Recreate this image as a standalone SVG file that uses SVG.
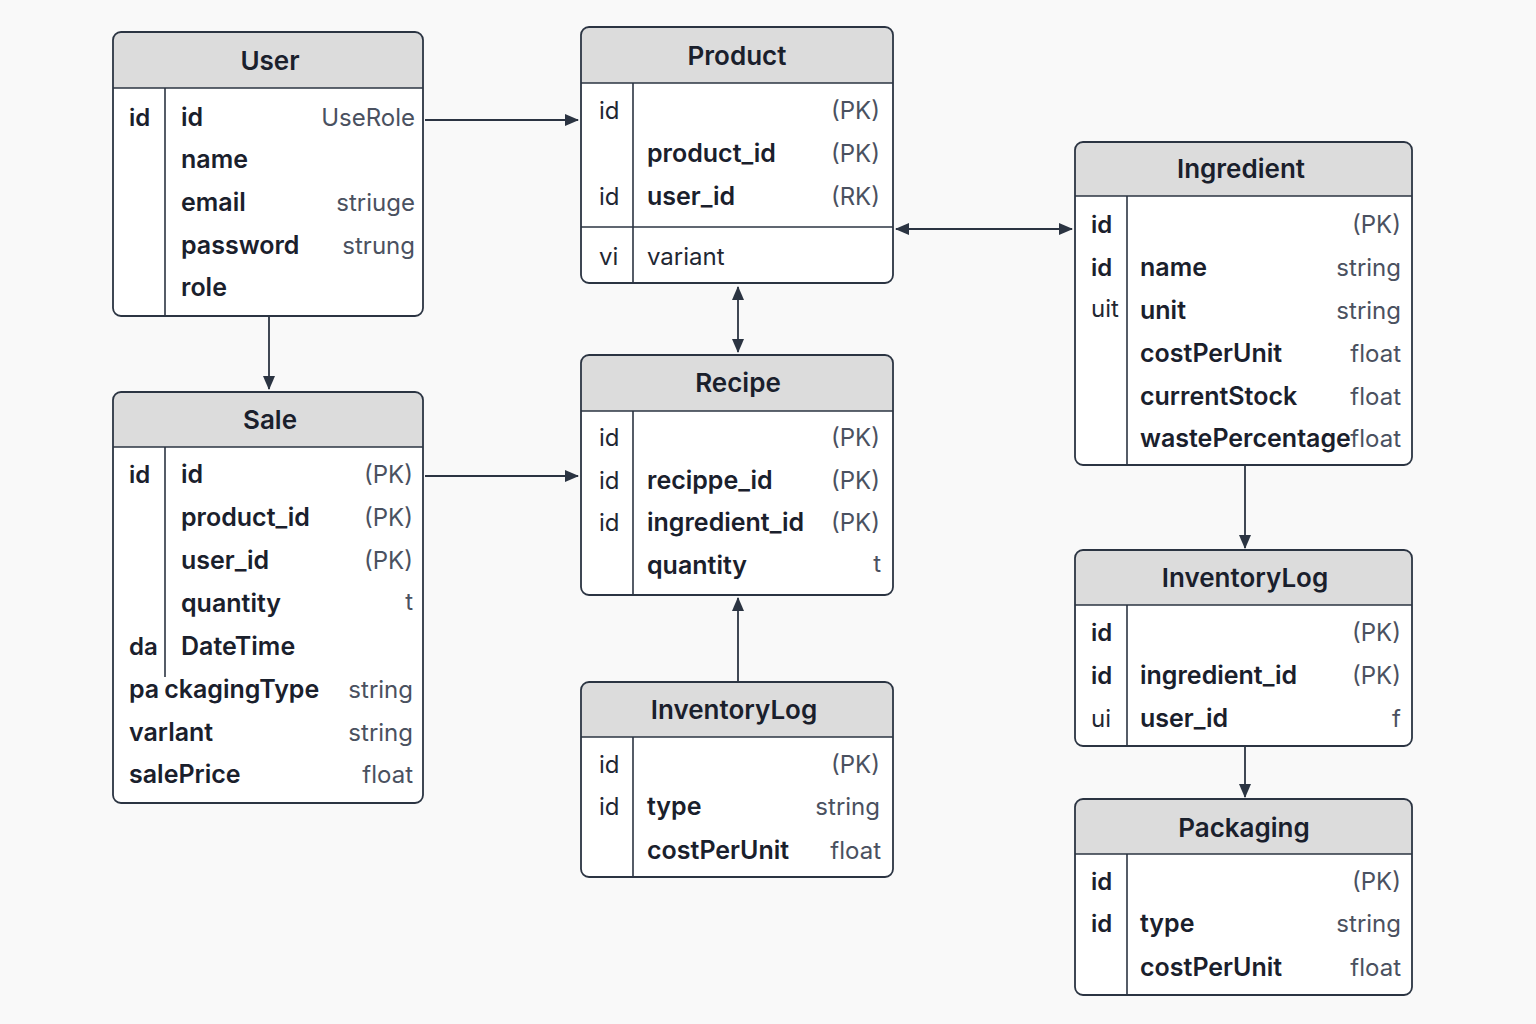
<svg xmlns="http://www.w3.org/2000/svg" width="1536" height="1024" viewBox="0 0 1536 1024">
<style>
.bg{fill:#f9f9f9}
.box{fill:#ffffff;stroke:none}
.frame{fill:none;stroke:#2b3442;stroke-width:1.8}
.hdr{fill:#dcdcdc;stroke:none}
.ln{stroke:#2b3442;stroke-width:1.6;fill:none}
.title{font-family:Inter,"Liberation Sans",sans-serif;font-size:26px;font-weight:600;fill:#1a202c;text-anchor:middle}
.k{font-family:Inter,"Liberation Sans",sans-serif;font-size:24px;font-weight:600;fill:#1a202c}
.kr{font-family:Inter,"Liberation Sans",sans-serif;font-size:24px;font-weight:400;fill:#1f2733}
.n{font-family:Inter,"Liberation Sans",sans-serif;font-size:25px;font-weight:600;fill:#1a202c}
.nr{font-family:Inter,"Liberation Sans",sans-serif;font-size:24px;font-weight:400;fill:#1f2733}
.t{font-family:Inter,"Liberation Sans",sans-serif;font-size:24px;font-weight:400;fill:#4a5160;text-anchor:end}
.conn{stroke:#2b3442;stroke-width:1.8;fill:none}
</style>
<defs>
<marker id="ah" viewBox="0 0 14 12" refX="13" refY="6" markerWidth="14" markerHeight="12" markerUnits="userSpaceOnUse" orient="auto-start-reverse">
<path d="M0,0 L14,6 L0,12 Z" fill="#2b3442"/>
</marker>
</defs>
<rect class="bg" x="0" y="0" width="1536" height="1024"/>

<g id="connectors">
<line class="conn" x1="425" y1="120" x2="578" y2="120" marker-end="url(#ah)"/>
<line class="conn" x1="269" y1="317" x2="269" y2="389" marker-end="url(#ah)"/>
<line class="conn" x1="425" y1="476" x2="578" y2="476" marker-end="url(#ah)"/>
<line class="conn" x1="738" y1="287" x2="738" y2="352" marker-start="url(#ah)" marker-end="url(#ah)"/>
<line class="conn" x1="896" y1="229" x2="1072" y2="229" marker-start="url(#ah)" marker-end="url(#ah)"/>
<line class="conn" x1="738" y1="682" x2="738" y2="598" marker-end="url(#ah)"/>
<line class="conn" x1="1245" y1="466" x2="1245" y2="548" marker-end="url(#ah)"/>
<line class="conn" x1="1245" y1="747" x2="1245" y2="797" marker-end="url(#ah)"/>
</g>

<g id="user">
<rect class="box" x="113" y="32" width="310" height="284" rx="8"/>
<path class="hdr" d="M114,88 V40 Q114,33 121,33 H415 Q422,33 422,40 V88 Z"/>
<line class="ln" x1="113" y1="88" x2="423" y2="88"/>
<line class="ln" x1="165" y1="88" x2="165" y2="316"/>
<rect class="frame" x="113" y="32" width="310" height="284" rx="8"/>
<text class="title" x="270" y="70">User</text>
<text class="k" x="129" y="126">id</text>
<text class="n" x="181" y="126">id</text>
<text class="n" x="181" y="168">name</text>
<text class="n" x="181" y="211">email</text>
<text class="n" x="181" y="254">password</text>
<text class="n" x="181" y="296">role</text>
<text class="t" x="415" y="126">UseRole</text>
<text class="t" x="415" y="211">striuge</text>
<text class="t" x="415" y="254">strung</text>
</g>

<g id="product">
<rect class="box" x="581" y="27" width="312" height="256" rx="8"/>
<path class="hdr" d="M582,83 V35 Q582,28 589,28 H885 Q892,28 892,35 V83 Z"/>
<line class="ln" x1="581" y1="83" x2="893" y2="83"/>
<line class="ln" x1="633" y1="83" x2="633" y2="283"/>
<line class="ln" x1="581" y1="227" x2="893" y2="227"/>
<rect class="frame" x="581" y="27" width="312" height="256" rx="8"/>
<text class="title" x="737" y="65">Product</text>
<text class="kr" x="599" y="119">id</text>
<text class="kr" x="599" y="205">id</text>
<text class="kr" x="599" y="265">vi</text>
<text class="n" x="647" y="162">product_id</text>
<text class="n" x="647" y="205">user_id</text>
<text class="nr" x="647" y="265">variant</text>
<text class="t" x="880" y="119">(PK)</text>
<text class="t" x="880" y="162">(PK)</text>
<text class="t" x="880" y="205">(RK)</text>
</g>

<g id="ingredient">
<rect class="box" x="1075" y="142" width="337" height="323" rx="8"/>
<path class="hdr" d="M1076,196 V150 Q1076,143 1083,143 H1404 Q1411,143 1411,150 V196 Z"/>
<line class="ln" x1="1075" y1="196" x2="1412" y2="196"/>
<line class="ln" x1="1127" y1="196" x2="1127" y2="465"/>
<rect class="frame" x="1075" y="142" width="337" height="323" rx="8"/>
<text class="title" x="1241" y="178">Ingredient</text>
<text class="k" x="1091" y="233">id</text>
<text class="k" x="1091" y="276">id</text>
<text class="kr" x="1091" y="317">uit</text>
<text class="n" x="1140" y="276">name</text>
<text class="n" x="1140" y="319">unit</text>
<text class="n" x="1140" y="362">costPerUnit</text>
<text class="n" x="1140" y="405">currentStock</text>
<text class="n" x="1140" y="447">wastePercentage</text>
<text class="t" x="1401" y="233">(PK)</text>
<text class="t" x="1401" y="276">string</text>
<text class="t" x="1401" y="319">string</text>
<text class="t" x="1401" y="362">float</text>
<text class="t" x="1401" y="405">float</text>
<text class="t" x="1401" y="447">float</text>
</g>

<g id="sale">
<rect class="box" x="113" y="392" width="310" height="411" rx="8"/>
<path class="hdr" d="M114,447 V400 Q114,393 121,393 H415 Q422,393 422,400 V447 Z"/>
<line class="ln" x1="113" y1="447" x2="423" y2="447"/>
<line class="ln" x1="165" y1="447" x2="165" y2="677"/>
<rect class="frame" x="113" y="392" width="310" height="411" rx="8"/>
<text class="title" x="270" y="429">Sale</text>
<text class="k" x="129" y="483">id</text>
<text class="k" x="129" y="655">da</text>
<text class="n" x="181" y="483">id</text>
<text class="n" x="181" y="526">product_id</text>
<text class="n" x="181" y="569">user_id</text>
<text class="n" x="181" y="612">quantity</text>
<text class="n" x="181" y="655">DateTime</text>
<text class="n" x="129" y="698">pa<tspan dx="5">ckagingType</tspan></text>
<text class="n" x="129" y="741">varlant</text>
<text class="n" x="129" y="783">salePrice</text>
<text class="t" x="413" y="483">(PK)</text>
<text class="t" x="413" y="526">(PK)</text>
<text class="t" x="413" y="569">(PK)</text>
<text class="t" x="413" y="610">t</text>
<text class="t" x="413" y="698">string</text>
<text class="t" x="413" y="741">string</text>
<text class="t" x="413" y="783">float</text>
</g>

<g id="recipe">
<rect class="box" x="581" y="355" width="312" height="240" rx="8"/>
<path class="hdr" d="M582,411 V363 Q582,356 589,356 H885 Q892,356 892,363 V411 Z"/>
<line class="ln" x1="581" y1="411" x2="893" y2="411"/>
<line class="ln" x1="633" y1="411" x2="633" y2="595"/>
<rect class="frame" x="581" y="355" width="312" height="240" rx="8"/>
<text class="title" x="738" y="392">Recipe</text>
<text class="kr" x="599" y="446">id</text>
<text class="kr" x="599" y="489">id</text>
<text class="kr" x="599" y="531">id</text>
<text class="n" x="647" y="489">recippe_id</text>
<text class="n" x="647" y="531">ingredient_id</text>
<text class="n" x="647" y="574">quantity</text>
<text class="t" x="880" y="446">(PK)</text>
<text class="t" x="880" y="489">(PK)</text>
<text class="t" x="880" y="531">(PK)</text>
<text class="t" x="881" y="572">t</text>
</g>

<g id="inventorylog-mid">
<rect class="box" x="581" y="682" width="312" height="195" rx="8"/>
<path class="hdr" d="M582,737 V690 Q582,683 589,683 H885 Q892,683 892,690 V737 Z"/>
<line class="ln" x1="581" y1="737" x2="893" y2="737"/>
<line class="ln" x1="633" y1="737" x2="633" y2="877"/>
<rect class="frame" x="581" y="682" width="312" height="195" rx="8"/>
<text class="title" x="734" y="719">InventoryLog</text>
<text class="kr" x="599" y="773">id</text>
<text class="kr" x="599" y="815">id</text>
<text class="n" x="647" y="815">type</text>
<text class="n" x="647" y="859">costPerUnit</text>
<text class="t" x="880" y="773">(PK)</text>
<text class="t" x="880" y="815">string</text>
<text class="t" x="881" y="859">float</text>
</g>

<g id="inventorylog-right">
<rect class="box" x="1075" y="550" width="337" height="196" rx="8"/>
<path class="hdr" d="M1076,605 V558 Q1076,551 1083,551 H1404 Q1411,551 1411,558 V605 Z"/>
<line class="ln" x1="1075" y1="605" x2="1412" y2="605"/>
<line class="ln" x1="1127" y1="605" x2="1127" y2="746"/>
<rect class="frame" x="1075" y="550" width="337" height="196" rx="8"/>
<text class="title" x="1245" y="587">InventoryLog</text>
<text class="k" x="1091" y="641">id</text>
<text class="k" x="1091" y="684">id</text>
<text class="kr" x="1091" y="727">ui</text>
<text class="n" x="1140" y="684">ingredient_id</text>
<text class="n" x="1140" y="727">user_id</text>
<text class="t" x="1401" y="641">(PK)</text>
<text class="t" x="1401" y="684">(PK)</text>
<text class="t" x="1401" y="727">f</text>
</g>

<g id="packaging">
<rect class="box" x="1075" y="799" width="337" height="196" rx="8"/>
<path class="hdr" d="M1076,854 V807 Q1076,800 1083,800 H1404 Q1411,800 1411,807 V854 Z"/>
<line class="ln" x1="1075" y1="854" x2="1412" y2="854"/>
<line class="ln" x1="1127" y1="854" x2="1127" y2="995"/>
<rect class="frame" x="1075" y="799" width="337" height="196" rx="8"/>
<text class="title" x="1244" y="837">Packaging</text>
<text class="k" x="1091" y="890">id</text>
<text class="k" x="1091" y="932">id</text>
<text class="n" x="1140" y="932">type</text>
<text class="n" x="1140" y="976">costPerUnit</text>
<text class="t" x="1401" y="890">(PK)</text>
<text class="t" x="1401" y="932">string</text>
<text class="t" x="1401" y="976">float</text>
</g>
</svg>
